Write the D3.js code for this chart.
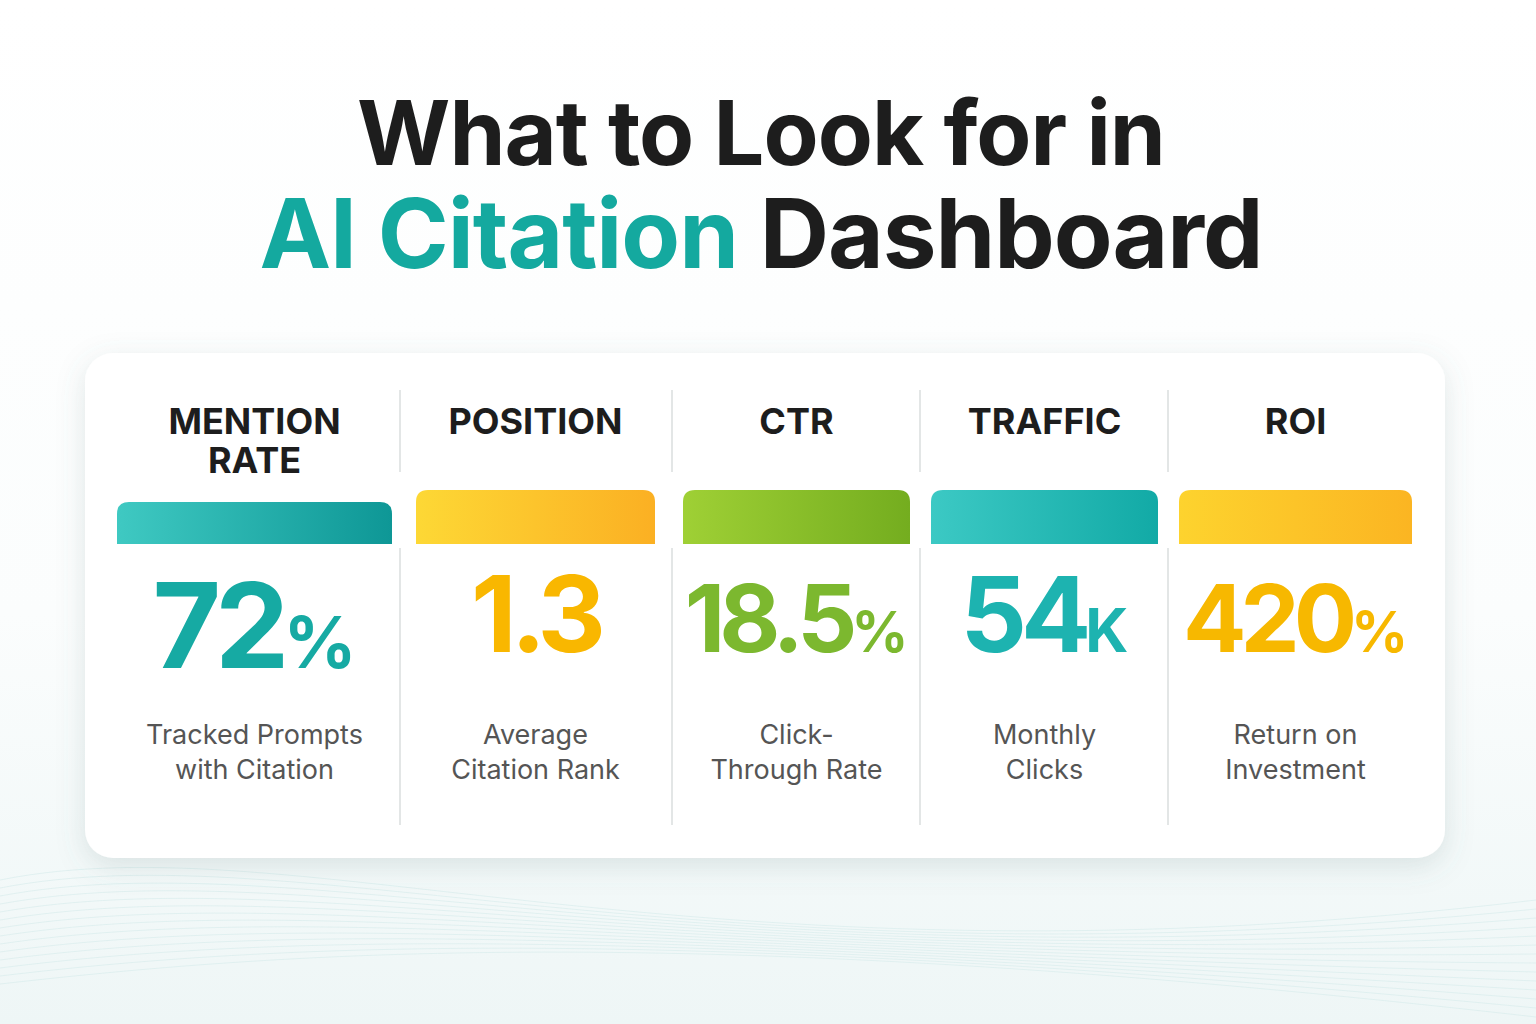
<!DOCTYPE html>
<html><head><meta charset="utf-8">
<script src="https://cdn.jsdelivr.net/npm/d3@7"></script>
<style>body{margin:0;background:#fff}svg{display:block}</style>
</head><body>
<svg id="c" width="1536" height="1024"></svg>
<script>
// dashboard data
var headers = [["MENTION","RATE"],["POSITION"],["CTR"],["TRAFFIC"],["ROI"]];
var values = ["72","1.3","18.5","54","420"];
var suffixes = ["%","","%","K","%"];
var descriptions = [["Tracked Prompts","with Citation"],["Average","Citation Rank"],["Click-","Through Rate"],["Monthly","Clicks"],["Return on","Investment"]];
var colLeft = [117,416,683,931,1179];
var colRight = [392,655,910,1158,1412];
var barTop = [502,490,490,490,490];
var gradStart = ["#3fc9c2","#fdd835","#9fd035","#3cc9c4","#fdd32e"];
var gradEnd = ["#0e9796","#fbb023","#74ad1f","#12aaa6","#fbb522"];
var numColor = ["#16aaa3","#f9b700","#7cb82f","#1db3b0","#f7b800"];
var numSize = [118,106,94,104,94];
var sufSize = [72,0,56,60,56];
var separators = [400,672,920,1168];

var svg = d3.select("#c");
var defs = svg.append("defs");
var bg = defs.append("linearGradient").attr("id","bg").attr("x1",0).attr("y1",0).attr("x2",0).attr("y2",1);
bg.append("stop").attr("offset","0").attr("stop-color","#ffffff");
bg.append("stop").attr("offset","0.6").attr("stop-color","#fbfdfd");
bg.append("stop").attr("offset","1").attr("stop-color","#eef6f6");
svg.append("rect").attr("width",1536).attr("height",1024).attr("fill","url(#bg)");

// faint waves
for(var i=0;i<14;i++){
  svg.append("path").attr("fill","none").attr("stroke","#d6ebeb").attr("stroke-width",1).attr("opacity",.6)
    .attr("d","M0,"+(880+i*8)+" C300,"+(820+i*10)+" 700,"+(1000-i*6)+" 1536,"+(900+i*9));
}

var f = defs.append("filter").attr("id","sh").attr("x","-10%").attr("y","-10%").attr("width","120%").attr("height","130%");
f.append("feDropShadow").attr("dx",0).attr("dy",8).attr("stdDeviation",14).attr("flood-color","#5a7a7a").attr("flood-opacity",.18);

var font = "Inter, 'Open Sans', sans-serif";
svg.append("text").attr("x",761).attr("y",165).attr("text-anchor","middle")
  .attr("font-family",font).attr("font-weight",700).attr("font-size",90).attr("letter-spacing",-1).attr("fill","#1d1d1d")
  .text("What to Look for in");
var t2 = svg.append("text").attr("x",761).attr("y",268).attr("text-anchor","middle")
  .attr("font-family",font).attr("font-weight",700).attr("font-size",96).attr("letter-spacing",-1);
t2.append("tspan").attr("fill","#14a99f").text("AI Citation ");
t2.append("tspan").attr("fill","#1d1d1d").text("Dashboard");

svg.append("rect").attr("x",85).attr("y",353).attr("width",1360).attr("height",505).attr("rx",28)
  .attr("fill","#fff").attr("filter","url(#sh)");

separators.forEach(function(x){
  svg.append("line").attr("x1",x).attr("x2",x).attr("y1",390).attr("y2",472).attr("stroke","#e3e6e6").attr("stroke-width",2);
  svg.append("line").attr("x1",x).attr("x2",x).attr("y1",548).attr("y2",825).attr("stroke","#e3e6e6").attr("stroke-width",2);
});

headers.forEach(function(h,i){
  var cx = (colLeft[i]+colRight[i])/2;
  var g = svg.append("g");
  h.forEach(function(line,j){
    g.append("text").attr("x",cx).attr("y",434+j*39).attr("text-anchor","middle")
      .attr("font-family",font).attr("font-weight",700).attr("font-size",36).attr("fill","#1d1d1d").text(line);
  });
  var gr = defs.append("linearGradient").attr("id","g"+i);
  gr.append("stop").attr("offset","0").attr("stop-color",gradStart[i]);
  gr.append("stop").attr("offset","1").attr("stop-color",gradEnd[i]);
  var r = 12;
  g.append("path").attr("fill","url(#g"+i+")")
    .attr("d","M"+colLeft[i]+",544 V"+(barTop[i]+r)+" Q"+colLeft[i]+","+barTop[i]+" "+(colLeft[i]+r)+","+barTop[i]+
      " H"+(colRight[i]-r)+" Q"+colRight[i]+","+barTop[i]+" "+colRight[i]+","+(barTop[i]+r)+" V544 Z");
  var num = g.append("text").attr("x",cx).attr("y",i==0?668:652).attr("text-anchor","middle")
    .attr("font-family",font).attr("font-weight",700).attr("fill",numColor[i]).attr("letter-spacing",-6);
  num.append("tspan").attr("font-size",numSize[i]).text(values[i]);
  if(suffixes[i]) num.append("tspan").attr("font-size",sufSize[i]).attr("letter-spacing",0).text(suffixes[i]);
  descriptions[i].forEach(function(line,j){
    g.append("text").attr("x",cx).attr("y",744+j*35).attr("text-anchor","middle")
      .attr("font-family",font).attr("font-size",27).attr("fill","#555").text(line);
  });
});
</script>
</body></html>
